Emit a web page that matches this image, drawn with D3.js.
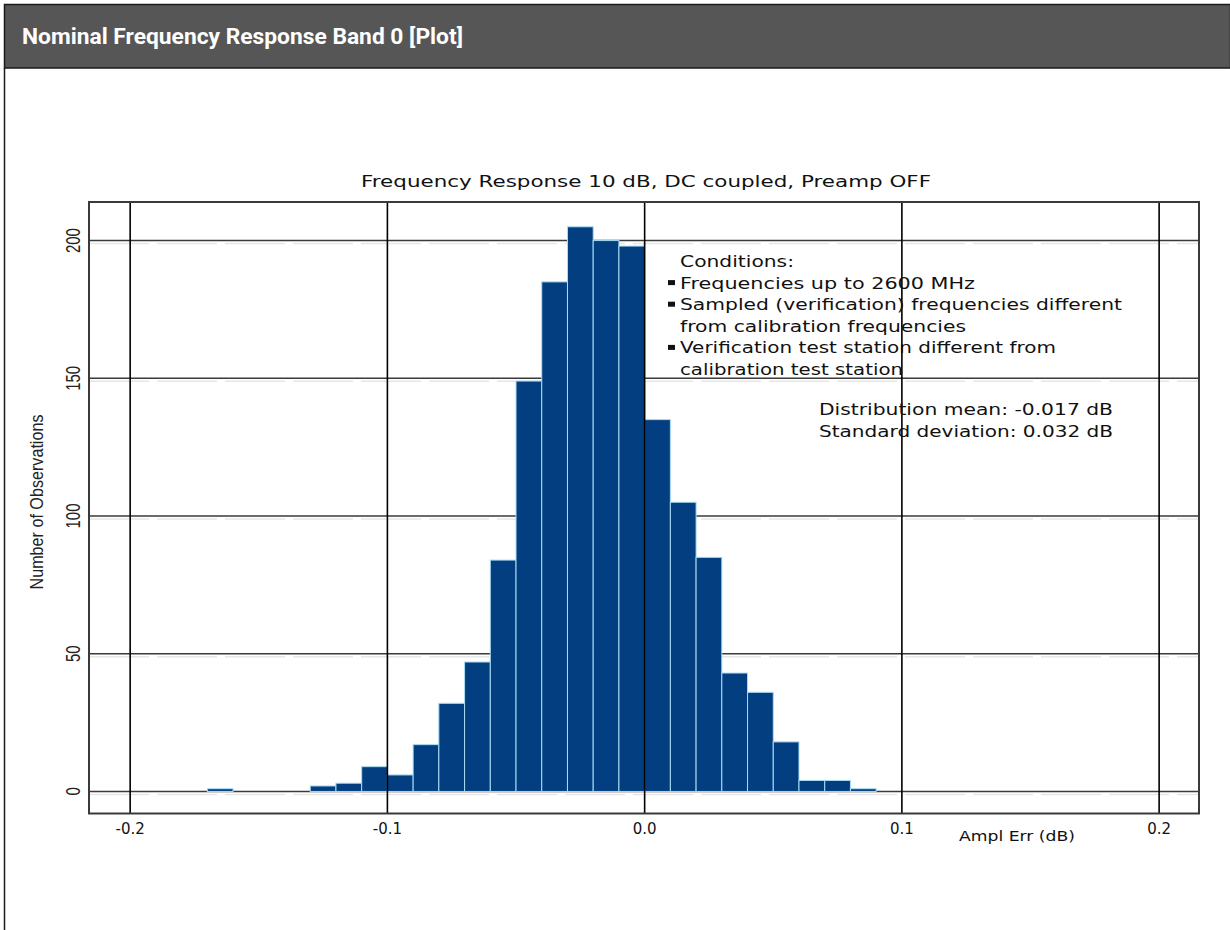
<!DOCTYPE html>
<html>
<head>
<meta charset="utf-8">
<script src="https://cdn.jsdelivr.net/npm/d3@7"></script>
<style>
  html, body { margin: 0; padding: 0; background: #fff; }
  svg { display: block; }
</style>
</head>
<body>
<svg id="chart" width="1230" height="930"></svg>
<script>
// ---- data ----
const binStarts = [-0.17,-0.16,-0.15,-0.14,-0.13,-0.12,-0.11,-0.10,-0.09,-0.08,-0.07,-0.06,-0.05,-0.04,-0.03,-0.02,-0.01,0.00,0.01,0.02,0.03,0.04,0.05,0.06,0.07,0.08];
const counts    = [1,0,0,0,2,3,9,6,17,32,47,84,149,185,205,200,198,135,105,85,43,36,18,4,4,1];
const binWidth = 0.01;
const xTicks = [-0.2, -0.1, 0.0, 0.1, 0.2];
const xTickLabels = ["-0.2", "-0.1", "0.0", "0.1", "0.2"];
const yTicks = [0, 50, 100, 150, 200];
const yTickLabels = ["0", "50", "100", "150", "200"];
const headerTitle = "Nominal Frequency Response Band 0 [Plot]";
const chartTitle = "Frequency Response 10 dB, DC coupled, Preamp OFF";
const xAxisTitle = "Ampl Err (dB)";
const yAxisTitle = "Number of Observations";
const conditionsTitle = "Conditions:";
const conditionLines = [
  {text: "Frequencies up to 2600 MHz", bullet: true},
  {text: "Sampled (verification) frequencies different", bullet: true},
  {text: "from calibration frequencies", bullet: false},
  {text: "Verification test station different from", bullet: true},
  {text: "calibration test station", bullet: false}
];
const statsLines = ["Distribution mean: -0.017 dB", "Standard deviation: 0.032 dB"];

// ---- layout ----
const svg = d3.select("#chart");
const frame = {left: 89, right: 1199, top: 202, bottom: 813.5};
const x = d3.scaleLinear().domain([-0.216, 0.2155]).range([frame.left, frame.right]);
const y = d3.scaleLinear().domain([-8, 214]).range([frame.bottom, frame.top]);
const wideFont = "'DejaVu Sans', Verdana, sans-serif";
const narrowFont = "'Liberation Sans Narrow', 'Liberation Sans', sans-serif";

// header
svg.append("rect").attr("x", 4.5).attr("y", 4.5).attr("width", 1226).attr("height", 63.5)
  .attr("fill", "#565656").attr("stroke", "#1a1a1a").attr("stroke-width", 1.5);
svg.append("text").attr("x", 22).attr("y", 44)
  .attr("fill", "#fff").attr("font-family", "Roboto, 'Liberation Sans', sans-serif")
  .attr("font-weight", 700).attr("font-size", 22)
  .attr("textLength", 441).attr("lengthAdjust", "spacingAndGlyphs")
  .text(headerTitle);
svg.append("line").attr("x1", 4.5).attr("x2", 4.5).attr("y1", 68).attr("y2", 930)
  .attr("stroke", "#1a1a1a").attr("stroke-width", 1.5);

// chart title
svg.append("text").attr("x", 646).attr("y", 187).attr("text-anchor", "middle")
  .attr("font-family", wideFont).attr("font-size", 16)
  .attr("fill", "#111").attr("textLength", 570).attr("lengthAdjust", "spacingAndGlyphs")
  .text(chartTitle);

// horizontal gridlines (behind bars)
const gH = svg.append("g");
gH.selectAll("line.sh").data(yTicks).join("line")
  .attr("x1", frame.left).attr("x2", frame.right)
  .attr("y1", d => y(d) + 3).attr("y2", d => y(d) + 3)
  .attr("stroke", "#e6e6e6").attr("stroke-width", 1.5).attr("stroke-dasharray", "60,8");
gH.selectAll("line.g").data(yTicks).join("line")
  .attr("x1", frame.left).attr("x2", frame.right)
  .attr("y1", d => y(d)).attr("y2", d => y(d))
  .attr("stroke", "#3a3a3a").attr("stroke-width", 1.6);

// bars
const bins = binStarts.map((s, i) => ({s, c: counts[i]})).filter(d => d.c > 0);
svg.append("g").selectAll("rect").data(bins).join("rect")
  .attr("x", d => x(d.s))
  .attr("width", d => x(d.s + binWidth) - x(d.s))
  .attr("y", d => y(d.c))
  .attr("height", d => y(0) - y(d.c))
  .attr("fill", "#033f80").attr("stroke", "#a9dcf2").attr("stroke-width", 1);

// vertical gridlines (on top)
svg.append("g").selectAll("line").data(xTicks).join("line")
  .attr("x1", d => x(d)).attr("x2", d => x(d))
  .attr("y1", frame.top).attr("y2", frame.bottom)
  .attr("stroke", "#000").attr("stroke-width", 1.6);

// frame
svg.append("rect").attr("x", frame.left).attr("y", frame.top)
  .attr("width", frame.right - frame.left).attr("height", frame.bottom - frame.top)
  .attr("fill", "none").attr("stroke", "#3a3a3a").attr("stroke-width", 2);

// x tick labels
svg.append("g").selectAll("text").data(xTicks).join("text")
  .attr("x", d => x(d)).attr("y", 834).attr("text-anchor", "middle")
  .attr("font-family", wideFont).attr("font-size", 15)
  .attr("fill", "#111")
  .text((d, i) => xTickLabels[i]);

// x axis title
svg.append("text").attr("x", 959).attr("y", 841)
  .attr("font-family", wideFont).attr("font-size", 14.5)
  .attr("fill", "#111").attr("textLength", 116).attr("lengthAdjust", "spacingAndGlyphs")
  .text(xAxisTitle);

// y tick labels (rotated)
svg.append("g").selectAll("text").data(yTicks).join("text")
  .attr("transform", d => `translate(80,${y(d)}) rotate(-90)`)
  .attr("text-anchor", "middle")
  .attr("font-family", narrowFont).attr("font-size", 20)
  .attr("fill", "#222")
  .attr("textLength", (d, i) => yTickLabels[i].length * 8.3).attr("lengthAdjust", "spacingAndGlyphs")
  .text((d, i) => yTickLabels[i]);

// y axis title
svg.append("text").attr("transform", "translate(43,502) rotate(-90)")
  .attr("text-anchor", "middle")
  .attr("font-family", narrowFont).attr("font-size", 18)
  .attr("fill", "#222").attr("textLength", 175).attr("lengthAdjust", "spacingAndGlyphs")
  .text(yAxisTitle);

// conditions annotation
const condWidths = [295, 442, 286, 376, 223];
const lineH = 21.6;
svg.append("text").attr("x", 680).attr("y", 267)
  .attr("font-family", wideFont).attr("font-size", 16.5)
  .attr("fill", "#111").attr("textLength", 114).attr("lengthAdjust", "spacingAndGlyphs")
  .text(conditionsTitle);
const cg = svg.append("g");
cg.selectAll("text").data(conditionLines).join("text")
  .attr("x", 680).attr("y", (d, i) => 267 + lineH * (i + 1))
  .attr("font-family", wideFont).attr("font-size", 16.5)
  .attr("fill", "#111")
  .attr("textLength", (d, i) => condWidths[i]).attr("lengthAdjust", "spacingAndGlyphs")
  .text(d => d.text);
cg.selectAll("rect").data(conditionLines.map((d, i) => ({...d, i})).filter(d => d.bullet)).join("rect")
  .attr("x", 668).attr("y", d => 267 + lineH * (d.i + 1) - 8.5)
  .attr("width", 7).attr("height", 5).attr("fill", "#111");

// stats
const statWidths = [294, 294];
svg.append("g").selectAll("text").data(statsLines).join("text")
  .attr("x", 819).attr("y", (d, i) => 415 + 22 * i)
  .attr("font-family", wideFont).attr("font-size", 16.5)
  .attr("fill", "#111")
  .attr("textLength", (d, i) => statWidths[i]).attr("lengthAdjust", "spacingAndGlyphs")
  .text(d => d);
</script>
</body>
</html>
